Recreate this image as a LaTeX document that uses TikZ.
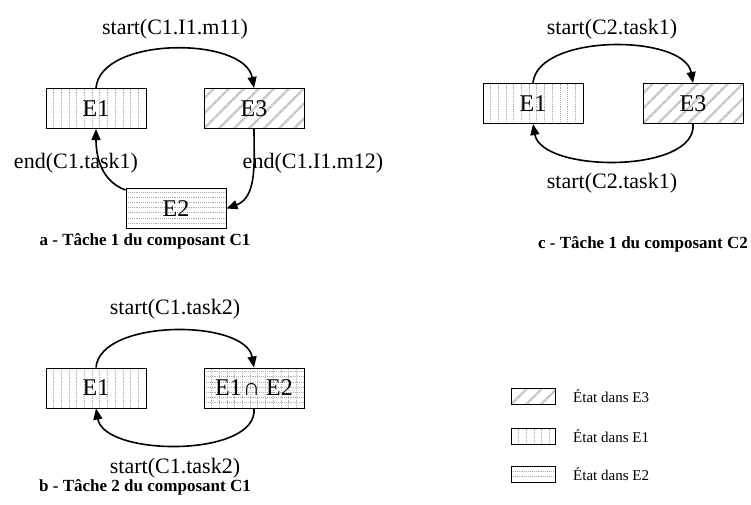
\documentclass[tikz,border=0pt]{standalone}
\usepackage{fontspec}
\setmainfont{Liberation Serif}
\usetikzlibrary{arrows.meta}
\begin{document}
\begin{tikzpicture}[x=1pt,y=-1pt,
  stripe/.style={gray!65, line width=0.9pt, densely dotted},
  dstripe/.style={gray!60, line width=2.2pt, dash pattern=on 1.2pt off 0.8pt},
  vstripes/.style={path picture={
    \foreach \k in {1,...,13}
      \draw[stripe] ([xshift=\k*7.7pt]path picture bounding box.south west) -- ([xshift=\k*7.7pt]path picture bounding box.north west);}},
  hstripes/.style={path picture={
    \foreach \k in {1,...,10}
      \draw[stripe] ([yshift=\k*5.2pt]path picture bounding box.south west) -- ([yshift=\k*5.2pt]path picture bounding box.south east);}},
  dstripes/.style={path picture={
    \foreach \k in {-4,...,9}
      \draw[dstripe] ([xshift=\k*15pt]path picture bounding box.south west) -- ++(60pt,60pt);}},
  gridstripes/.style={path picture={
    \foreach \k in {1,...,13}
      \draw[stripe] ([xshift=\k*7.7pt]path picture bounding box.south west) -- ([xshift=\k*7.7pt]path picture bounding box.north west);
    \foreach \k in {1,...,10}
      \draw[stripe] ([yshift=\k*5.2pt]path picture bounding box.south west) -- ([yshift=\k*5.2pt]path picture bounding box.south east);}},
  state/.style={draw, line width=1pt, fill=white, minimum width=100pt, minimum height=40pt, inner sep=0pt,
    font=\fontsize{24}{24}\selectfont},
  legbox/.style={draw, line width=1pt, fill=white, minimum width=44pt, minimum height=16pt, inner sep=0pt},
  lbl/.style={font=\fontsize{22}{22}\selectfont, inner sep=0pt},
  captxt/.style={font=\fontsize{17}{17}\selectfont\bfseries, inner sep=0pt},
  legtxt/.style={font=\fontsize{15}{15}\selectfont, inner sep=0pt, anchor=west},
  arr/.style={line width=1.6pt, -{Triangle[length=11pt,width=9pt]}}
]
\useasboundingbox (0,0) rectangle (751,504);

% panel a
\node[state, vstripes] (E1a) at (96,108.5) {E1};
\node[state, dstripes] (E3a) at (254,108.5) {E3};
\node[state, hstripes] (E2a) at (176,208.5) {E2};
\node[lbl] (la1) at (175,29) {start(C1.I1.m11)};
\node[lbl] (la2) at (76,163) {end(C1.task1)};
\node[lbl] (la3) at (313,163) {end(C1.I1.m12)};
\node[captxt] (capa) at (145,241) {a - Tâche 1 du composant C1};
\draw[arr] (E1a.north) to[out=85,in=100,looseness=0.85] (E3a.north);
\draw[arr] (E3a.south) to[out=-90,in=20] (E2a.east);
\draw[arr] ([yshift=-2pt]E2a.north west) to[out=160,in=-90] (E1a.south);

% panel c
\node[state, vstripes] (E1c) at (533,103.5) {E1};
\node[state, dstripes] (E3c) at (693,103.5) {E3};
\node[lbl] (lc1) at (612,29) {start(C2.task1)};
\node[lbl] (lc2) at (612,183) {start(C2.task1)};
\node[captxt] (capc) at (643,244) {c - Tâche 1 du composant C2};
\draw[arr] (E1c.north) to[out=85,in=100,looseness=0.8] (E3c.north);
\draw[arr] (E3c.south) to[out=-85,in=-80,looseness=0.8] (E1c.south);

% panel b
\node[state, vstripes] (E1b) at (96,388) {E1};
\node[state, gridstripes] (E12b) at (254,388) {E1\kern1pt∩ E2};
\node[lbl] (lb1) at (175,309) {start(C1.task2)};
\node[lbl] (lb2) at (175,468) {start(C1.task2)};
\node[captxt] (capb) at (145,487) {b - Tâche 2 du composant C1};
\draw[arr] (E1b.north) to[out=85,in=100,looseness=0.8] (E12b.north);
\draw[arr] (E12b.south) to[out=-85,in=-80,looseness=0.8] (E1b.south);

% legend
\node[legbox, dstripes] (g3) at (533,396.5) {};
\node[legbox, vstripes] (g1) at (533,436.5) {};
\node[legbox, hstripes] (g2) at (533,474) {};
\node[legtxt] (t3) at (573,396.5) {État dans E3};
\node[legtxt] (t1) at (573,436.5) {État dans E1};
\node[legtxt] (t2) at (573,474) {État dans E2};
\end{tikzpicture}
\end{document}
